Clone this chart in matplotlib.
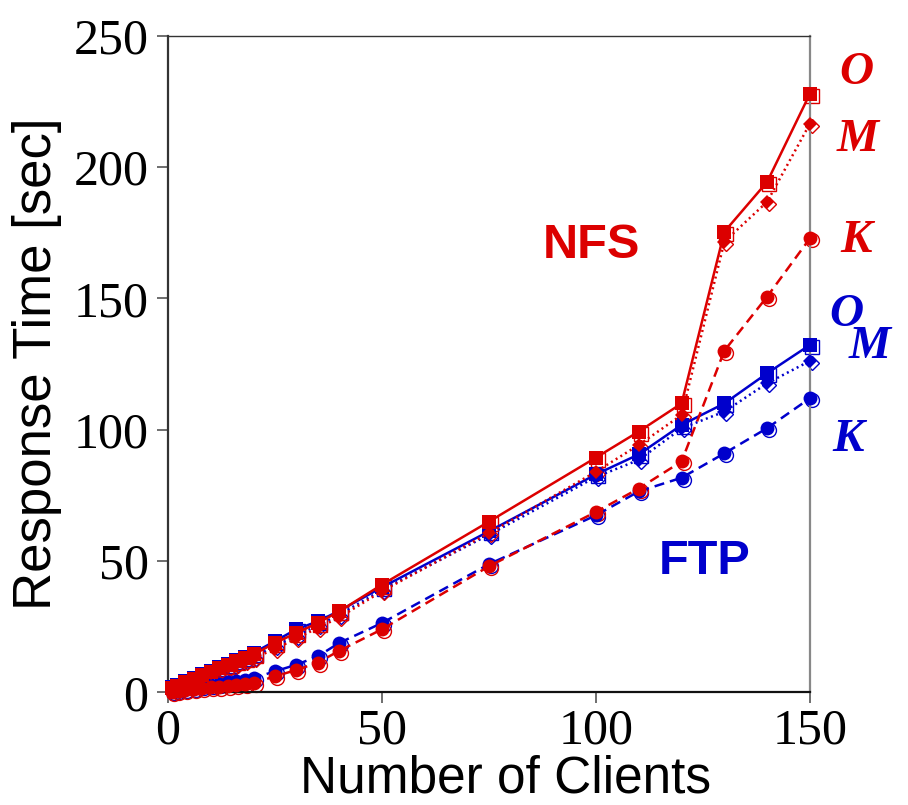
import matplotlib
matplotlib.use('Agg')
import matplotlib.pyplot as plt
from matplotlib.transforms import offset_copy

# Datos
clientes = [1, 2, 4, 6, 8, 10, 12, 14, 16, 18, 20, 25, 30, 35, 40, 50, 75, 100, 110, 120, 130, 140, 150]

nfs_o = [1.5, 2.4, 3.8, 5.2, 6.5, 7.8, 9.2, 10.5, 11.8, 13.1, 14.4, 18.8, 22.6, 26.4, 30.8, 41.0, 65.0, 89.4, 99.3, 110.0, 175.4, 194.4, 228.0]
nfs_m = [1.2, 2.0, 3.3, 4.6, 5.9, 7.2, 8.4, 9.6, 10.8, 12.0, 13.0, 16.5, 20.5, 24.5, 28.5, 38.5, 60.6, 84.0, 94.2, 105.6, 171.6, 186.8, 216.6]
nfs_k = [0.3, 0.5, 0.9, 1.2, 1.5, 1.9, 2.2, 2.5, 2.8, 3.1, 3.5, 6.1, 8.5, 11.3, 15.8, 24.0, 48.0, 68.7, 77.6, 87.9, 130.1, 150.7, 172.9]

ftp_o = [1.9, 2.8, 4.2, 5.6, 6.9, 8.2, 9.6, 10.9, 12.2, 13.5, 15.0, 19.5, 24.0, 27.0, 31.0, 40.0, 61.3, 83.0, 90.6, 101.8, 110.0, 121.5, 132.3]
ftp_m = [1.4, 2.2, 3.5, 4.8, 6.1, 7.4, 8.6, 9.8, 11.0, 12.2, 13.5, 17.5, 21.5, 25.5, 29.5, 39.0, 60.0, 82.0, 88.5, 100.5, 106.9, 117.7, 126.2]
ftp_k = [0.5, 0.8, 1.3, 1.8, 2.3, 2.8, 3.3, 3.8, 4.3, 4.8, 5.4, 8.0, 10.5, 13.7, 18.8, 26.4, 48.8, 67.4, 76.5, 81.7, 91.0, 100.6, 112.0]

ticks_x = [0, 50, 100, 150]
ticks_y = [0, 50, 100, 150, 200, 250]

rojo = '#dc0000'
azul = '#0000cc'

fig = plt.figure(figsize=(9.08, 8.05), dpi=100)
ax = fig.add_axes([168 / 908, 1 - 692.3 / 805, (810 - 168) / 908, (692.3 - 35.8) / 805])

sombra = offset_copy(ax.transData, fig=fig, x=2, y=-2, units='dots')

def serie(x, y, color, estilo, marcador, tam):
    ax.plot(x, y, color=color, linestyle=estilo, linewidth=1.8, marker=marcador,
            markersize=tam, markeredgewidth=0, clip_on=False, zorder=3)
    ax.plot(x, y, linestyle='none', marker=marcador, markersize=tam,
            markerfacecolor='none', markeredgecolor=color, markeredgewidth=1.0,
            transform=sombra, clip_on=False, zorder=2)

punteado = (0, (0.8, 1.4))
rayado = (0, (4, 2.4))

# FTP primero, NFS encima
serie(clientes, ftp_k, azul, rayado, 'o', 10)
serie(clientes, ftp_m, azul, punteado, 'D', 7.5)
serie(clientes, ftp_o, azul, '-', 's', 10.5)
serie(clientes, nfs_k, rojo, rayado, 'o', 10)
serie(clientes, nfs_m, rojo, punteado, 'D', 7.5)
serie(clientes, nfs_o, rojo, '-', 's', 10.5)

ax.set_xlim(0, 150)
ax.set_ylim(0, 250)
ax.set_xticks(ticks_x)
ax.set_yticks(ticks_y)

fuente_num = {'family': 'Liberation Serif', 'size': 36}
ax.set_xticklabels([str(t) for t in ticks_x], fontdict=fuente_num)
ax.set_yticklabels([str(t) for t in ticks_y], fontdict=fuente_num)
ax.tick_params(direction='out', length=8, width=1.2, color='#555555', pad=6)
ax.tick_params(axis='x', pad=3)

ax.spines['left'].set_color('#333333')
ax.spines['left'].set_linewidth(1.6)
ax.spines['bottom'].set_color('#111111')
ax.spines['bottom'].set_linewidth(1.6)
ax.spines['top'].set_color('#333333')
ax.spines['top'].set_linewidth(1.0)
ax.spines['right'].set_color('#888888')
ax.spines['right'].set_linewidth(1.6)

fig.text(506 / 908, 1 - 792 / 805, 'Number of Clients', family='Liberation Sans', size=37,
         ha='center', va='baseline')
ax.set_ylabel('Response Time [sec]', family='Liberation Sans', size=38, labelpad=8)

# Etiquetas de las series
fig.text(591 / 908, 1 - 245 / 805, 'NFS', color=rojo, family='Liberation Sans',
         weight='bold', size=35, ha='center', va='center')
fig.text(705 / 908, 1 - 561 / 805, 'FTP', color=azul, family='Liberation Sans',
         weight='bold', size=35, ha='center', va='center')

letra = {'family': 'Liberation Serif', 'weight': 'bold', 'style': 'italic', 'size': 34}
for texto, px, py, c in [('O', 856, 73, rojo), ('M', 858, 140, rojo), ('K', 856, 241, rojo),
                         ('O', 846, 315, azul), ('M', 870, 347, azul), ('K', 848, 440, azul)]:
    fig.text(px / 908, 1 - py / 805, texto, color=c, ha='center', va='center', fontdict=letra)

fig.savefig('out.png', dpi=100)
